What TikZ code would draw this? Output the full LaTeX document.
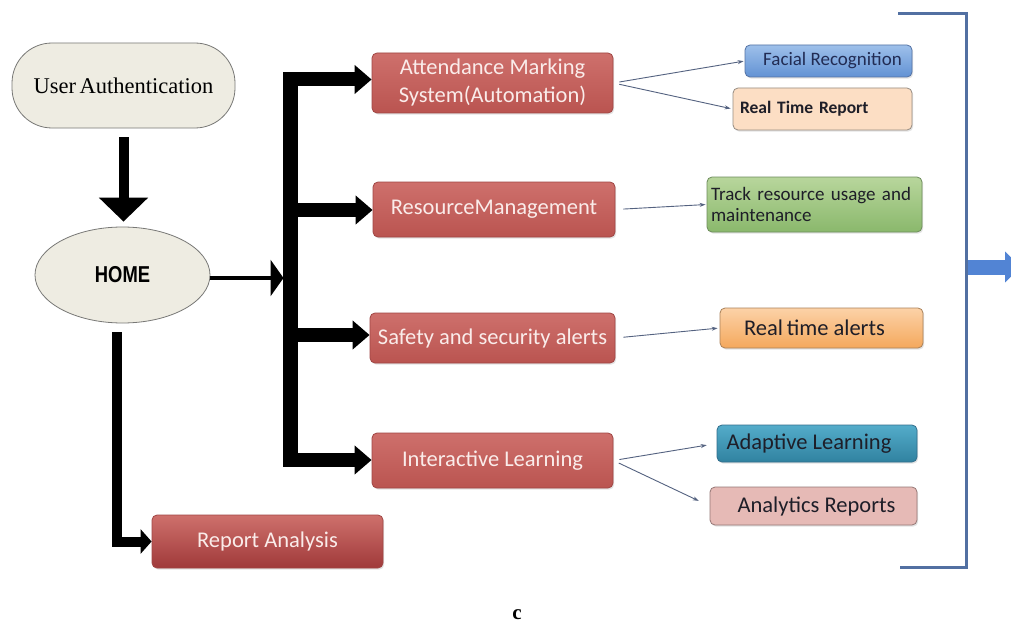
\documentclass[tikz,border=0pt]{standalone}
\usepackage{fontspec}
\setmainfont{Liberation Serif}
\newfontfamily\calibri{Carlito}
\newfontfamily\arialfont{Liberation Sans}
\usetikzlibrary{arrows.meta,shapes.geometric,shadows}

\definecolor{redtop}{RGB}{206,112,108}
\definecolor{redbot}{RGB}{186,84,80}
\definecolor{redline}{RGB}{160,70,68}
\definecolor{redtext}{RGB}{250,236,234}
\definecolor{rptbot}{RGB}{160,58,58}
\definecolor{beige}{RGB}{238,236,226}
\definecolor{beigeline}{RGB}{120,120,118}
\definecolor{bluetop}{RGB}{158,192,234}
\definecolor{bluebot}{RGB}{98,146,212}
\definecolor{blueline}{RGB}{84,114,164}
\definecolor{peach}{RGB}{252,222,196}
\definecolor{peachline}{RGB}{150,140,130}
\definecolor{greentop}{RGB}{184,214,156}
\definecolor{greenbot}{RGB}{138,184,108}
\definecolor{greenline}{RGB}{110,140,92}
\definecolor{orangetop}{RGB}{252,210,168}
\definecolor{orangebot}{RGB}{244,168,92}
\definecolor{orangeline}{RGB}{170,130,90}
\definecolor{tealtop}{RGB}{84,172,202}
\definecolor{tealbot}{RGB}{48,130,160}
\definecolor{tealline}{RGB}{50,110,140}
\definecolor{pink}{RGB}{230,186,182}
\definecolor{pinkline}{RGB}{150,120,118}
\definecolor{linkgray}{RGB}{84,98,128}
\definecolor{bracketblue}{RGB}{82,112,162}
\definecolor{outblue}{RGB}{82,132,212}
\definecolor{darktext}{RGB}{30,30,40}
\definecolor{navytext}{RGB}{34,44,84}

\begin{document}
\begin{tikzpicture}[x=1pt,y=-1pt,
  shade/.style={drop shadow={opacity=0.22,shadow xshift=1.2pt,shadow yshift=-1.6pt}},
  redbox/.style={rectangle,rounded corners=5pt,draw=redline,line width=0.8pt,
    top color=redtop,bottom color=redbot,text=redtext,inner sep=0pt,align=center,
    font=\calibri\fontsize{22.5}{28}\selectfont,shade},
  leaf/.style={rectangle,rounded corners=5pt,line width=0.8pt,inner sep=0pt,
    text=darktext,shade},
  bigarr/.style={line width=14pt,-{Triangle[width=28pt,length=17pt]}},
  homearr/.style={line width=3.5pt,-{Triangle[width=36pt,length=13pt]}},
  downarr/.style={line width=10pt,-{Triangle[width=48pt,length=24pt]}},
  rptarr/.style={line width=10pt,line join=miter,-{Triangle[width=24pt,length=11pt]}},
  link/.style={draw=linkgray,line width=0.9pt,-{Stealth[length=6pt,width=4pt]}}
]
\clip (0,0) rectangle (1011,623);
\fill[white] (0,0) rectangle (1011,623);

% entry and home
\node[rectangle,rounded corners=40pt,draw=beigeline,fill=beige,line width=0.8pt,
  minimum width=223pt,minimum height=85pt,inner sep=0pt,
  font=\fontsize{22.5}{26}\selectfont] (ua) at (123.5,85.5) {User\,Authentication};
\node[ellipse,draw=beigeline,fill=beige,line width=0.8pt,
  minimum width=175pt,minimum height=96pt,inner sep=0pt] (home) at (122.5,275)
  {\arialfont\bfseries\fontsize{23}{26}\selectfont\scalebox{0.8}[1]{HOME}};

% modules
\node[redbox,minimum width=241pt,minimum height=60pt] (att) at (492.5,83)
  {Attendance Marking\\System(Automation)};
\node[redbox,minimum width=242pt,minimum height=55pt] (res) at (494,209.5)
  {ResourceManagement};
\node[redbox,minimum width=245pt,minimum height=50pt] (saf) at (492.5,338)
  {Safety and security alerts};
\node[redbox,minimum width=241pt,minimum height=55pt] (int) at (492.5,460.5)
  {Interactive Learning};
\node[redbox,minimum width=231pt,minimum height=53pt,bottom color=rptbot] (ra)
  at (267.5,541.5) {Report Analysis};

% features
\node[leaf,draw=blueline,top color=bluetop,bottom color=bluebot,
  minimum width=167pt,minimum height=32pt,
  font=\calibri\fontsize{19}{22}\selectfont,text=navytext] (fr) at (828.5,61)
  {\hspace*{8pt}Facial Recognition};
\node[leaf,draw=peachline,fill=peach,minimum width=179pt,minimum height=42pt,
  font=\calibri\bfseries\fontsize{17.5}{22}\selectfont,
  text width=165pt,align=left] (rtr) at (822.5,109) {Real Time Report};
\node[leaf,draw=greenline,top color=greentop,bottom color=greenbot,
  minimum width=215pt,minimum height=55pt,
  font=\calibri\fontsize{19}{21}\selectfont,
  text width=207pt,align=left] (trk) at (814.5,204.5)
  {Track resource usage and\\maintenance};
\node[leaf,draw=orangeline,top color=orangetop,bottom color=orangebot,
  minimum width=203pt,minimum height=40pt,
  font=\calibri\fontsize{22.5}{26}\selectfont] (rta) at (821.5,328)
  {Real\,time alerts\hspace*{14pt}};
\node[leaf,draw=tealline,top color=tealtop,bottom color=tealbot,
  minimum width=200pt,minimum height=37pt,
  font=\calibri\fontsize{22.5}{26}\selectfont] (adl) at (817,443.5)
  {Adaptive Learning\hspace*{16pt}};
\node[leaf,draw=pinkline,fill=pink,minimum width=207pt,minimum height=38pt,
  font=\calibri\fontsize{22.5}{26}\selectfont] (anr) at (813.5,506)
  {\hspace*{6pt}Analytics Reports};

% flow from the login box to home
\draw[downarr,shorten <=9pt,shorten >=5pt] (ua.south) -- (ua.south |- home.north);

% distribution bar and branches
\coordinate (jh) at (283.5,278);
\coordinate (j1) at (283,79.5);
\coordinate (j2) at (283,210);
\coordinate (j3) at (283,335);
\coordinate (j4) at (283,460);
\draw[line width=15pt] (290.5,72.5) -- (290.5,467);
\draw[homearr] (home.east |- jh) -- (jh);
\draw[bigarr] (j1) -- (j1 -| att.west);
\draw[bigarr] (j2) -- (j2 -| res.west);
\draw[bigarr] (j3) -- (j3 -| saf.west);
\draw[bigarr] (j4) -- (j4 -| int.west);

% home to report analysis
\coordinate (rv) at (117,332);
\draw[rptarr] (rv) |- (ra.west);

% module to feature links
\draw[link,shorten <=6pt,shorten >=1pt] (att.east) -- (fr.west);
\draw[link,shorten <=6pt,shorten >=2pt] (att.east) -- (rtr.west);
\draw[link,shorten <=8pt,shorten >=1pt] (res.east) -- (trk.west);
\draw[link,shorten <=8pt,shorten >=2pt] (saf.east) -- (rta.west);
\draw[link,shorten <=6pt,shorten >=10pt] (int.east) -- (adl.west);
\draw[link,shorten <=6pt,shorten >=12pt] (int.east) -- (anr.west);

% right bracket and outgoing arrow
\coordinate (bt1) at (898,14);
\coordinate (bt2) at (966,14);
\coordinate (bb2) at (966,567);
\coordinate (bb1) at (900,567);
\draw[bracketblue,line width=3pt,line join=miter] (bt1) -- (bt2) -- (bb2) -- (bb1);
\coordinate (os) at (968,267);
\coordinate (oe) at (1021,267);
\draw[outblue,line width=15pt,-{Triangle[width=30pt,length=16pt]}] (os) -- (oe);

% caption
\node[anchor=base,font=\bfseries\fontsize{21}{24}\selectfont,inner sep=0pt] (cap)
  at (517,619) {c};
\end{tikzpicture}
\end{document}
